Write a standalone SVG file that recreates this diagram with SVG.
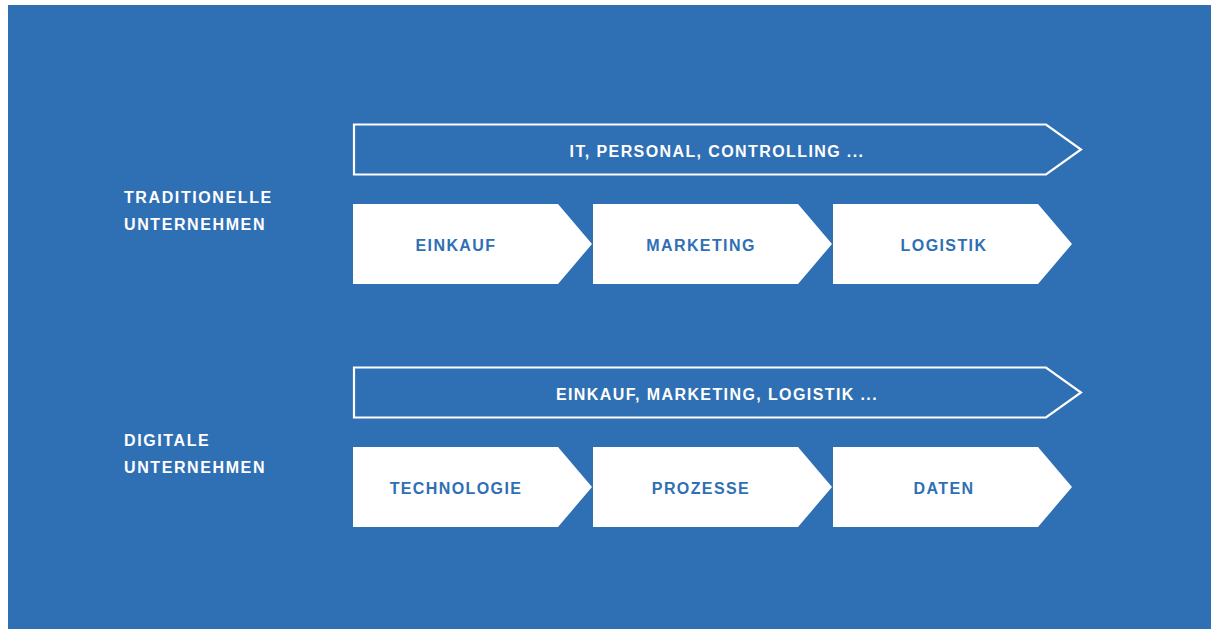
<svg xmlns="http://www.w3.org/2000/svg" width="1211" height="629" viewBox="0 0 1211 629">
  <style>
    .bg { fill: #2f6fb4; }
    .band { fill: none; stroke: #ffffff; stroke-width: 2.2; }
    .step { fill: #ffffff; }
    text { font-family: "Liberation Sans", Arial, sans-serif; font-weight: bold; font-size: 16px; letter-spacing: 1.6px; }
    .light { fill: #ffffff; }
    .dark { fill: #2f6fb4; text-anchor: middle; letter-spacing: 1.4px; }
    .bandtxt { fill: #ffffff; text-anchor: middle; letter-spacing: 1.4px; }
  </style>
  <defs>
    <!-- chevron step: flat part 205 wide, point 34 deeper, 80 tall -->
    <polygon id="chev" points="0,0 205,0 239,40 205,80 0,80"/>
  </defs>

  <rect class="bg" x="8" y="5" width="1203" height="624"/>

  <!-- traditional company -->
  <g id="label-traditionell">
    <text class="light" x="124" y="203">TRADITIONELLE</text>
    <text class="light" x="124" y="230">UNTERNEHMEN</text>
  </g>
  <g id="band-it">
    <polygon class="band" points="354,124.5 1046,124.5 1081,149.5 1046,174.5 354,174.5"/>
    <text class="bandtxt" x="717" y="157">IT, PERSONAL, CONTROLLING ...</text>
  </g>
  <g id="step-einkauf">
    <use href="#chev" class="step" x="353" y="204"/>
    <text class="dark" x="456" y="250.5">EINKAUF</text>
  </g>
  <g id="step-marketing">
    <use href="#chev" class="step" x="593" y="204"/>
    <text class="dark" x="701" y="250.5">MARKETING</text>
  </g>
  <g id="step-logistik">
    <use href="#chev" class="step" x="833" y="204"/>
    <text class="dark" x="944" y="250.5">LOGISTIK</text>
  </g>

  <!-- digital company -->
  <g id="label-digital">
    <text class="light" x="124" y="446">DIGITALE</text>
    <text class="light" x="124" y="473">UNTERNEHMEN</text>
  </g>
  <g id="band-fach">
    <polygon class="band" points="354,367.5 1046,367.5 1081,392.5 1046,417.5 354,417.5"/>
    <text class="bandtxt" x="717" y="399.5">EINKAUF, MARKETING, LOGISTIK ...</text>
  </g>
  <g id="step-technologie">
    <use href="#chev" class="step" x="353" y="447"/>
    <text class="dark" x="456" y="494">TECHNOLOGIE</text>
  </g>
  <g id="step-prozesse">
    <use href="#chev" class="step" x="593" y="447"/>
    <text class="dark" x="701" y="494">PROZESSE</text>
  </g>
  <g id="step-daten">
    <use href="#chev" class="step" x="833" y="447"/>
    <text class="dark" x="944" y="494">DATEN</text>
  </g>

  <!-- no connectors between nodes -->
  <g id="connectors"/>
</svg>
